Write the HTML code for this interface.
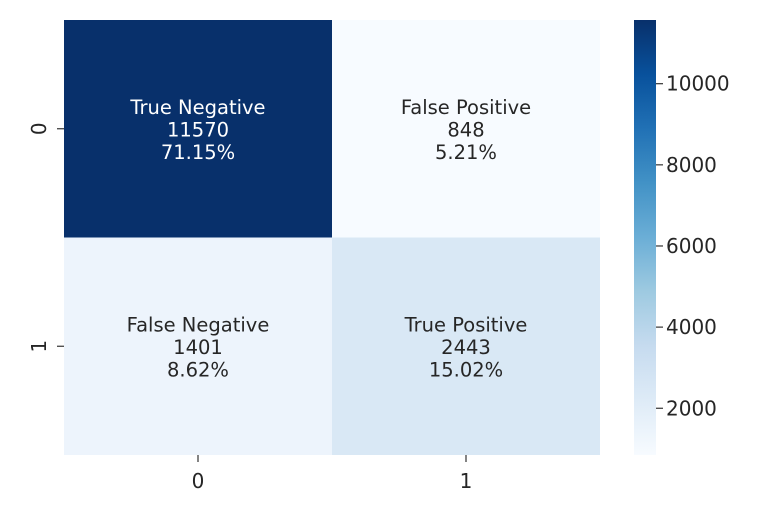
<!DOCTYPE html>
<html><head><meta charset="utf-8"><style>
body{margin:0;background:#fff;width:764px;height:516px;overflow:hidden}
svg{font-family:"DejaVu Sans","Liberation Sans",sans-serif}
</style></head><body>
<svg id="chart" width="764" height="516" xmlns="http://www.w3.org/2000/svg">
<defs>
<linearGradient id="blues" x1="0" y1="1" x2="0" y2="0">
<stop offset="0" stop-color="#f7fbff"/><stop offset="0.125" stop-color="#deebf7"/><stop offset="0.25" stop-color="#c6dbef"/><stop offset="0.375" stop-color="#9ecae1"/><stop offset="0.5" stop-color="#6baed6"/><stop offset="0.625" stop-color="#4292c6"/><stop offset="0.75" stop-color="#2171b5"/><stop offset="0.875" stop-color="#08519c"/><stop offset="1" stop-color="#08306b"/>
</linearGradient>
</defs>
<g id="cells"></g>
<g id="axes"></g>
<rect x="634" y="20" width="22" height="435" fill="url(#blues)"/>
<g id="cbar"></g>
</svg>
<script>
const rowLabels=["0","1"];
const colLabels=["0","1"];
const names=["True Negative","False Positive","False Negative","True Positive"];
const counts=[11570,848,1401,2443];
const percents=["71.15%","5.21%","8.62%","15.02%"];
const cbarTicks=[2000,4000,6000,8000,10000];

const stops=["#f7fbff","#deebf7","#c6dbef","#9ecae1","#6baed6","#4292c6","#2171b5","#08519c","#08306b"];
const vmin=Math.min(...counts), vmax=Math.max(...counts);
const X0=64,X1=600,Y0=20,Y1=455;
const cw=(X1-X0)/colLabels.length, ch=(Y1-Y0)/rowLabels.length;
function hex(c){return [1,3,5].map(i=>parseInt(c.substr(i,2),16));}
function color(v){let t=(v-vmin)/(vmax-vmin)*(stops.length-1);let i=Math.min(Math.floor(t),stops.length-2);let f=t-i;
 let a=hex(stops[i]),b=hex(stops[i+1]);return "rgb("+a.map((x,k)=>Math.round(x+(b[k]-x)*f)).join(",")+")";}
function cy(v){return Y1-(v-vmin)/(vmax-vmin)*(Y1-Y0);}
const NS="http://www.w3.org/2000/svg";
function mk(t,attrs,parent,txt){const e=document.createElementNS(NS,t);for(const k in attrs)e.setAttribute(k,attrs[k]);if(txt!==undefined)e.textContent=txt;document.getElementById(parent).appendChild(e);return e;}
counts.forEach((v,i)=>{
 const r=Math.floor(i/2),c=i%2;const x=X0+c*cw,y=Y0+r*ch;
 const rc=mk("rect",{x:x,y:y,width:cw,height:ch,fill:color(v)},"cells");
 
 
 const fill=(v-vmin)/(vmax-vmin)>0.5?"#ffffff":"#262626";
 const lines=[names[i],String(v),percents[i]];
 lines.forEach((s,k)=>{
  const t=mk("text",{x:x+cw/2,y:y+ch/2-15+k*22.5,"text-anchor":"middle","font-size":"19.5",fill:fill},"cells",s);
  
  
 });
});
rowLabels.forEach((l,i)=>{
 const y=Y0+(i+0.5)*ch;
 mk("line",{x1:57,x2:64,y1:y,y2:y,stroke:"#333","stroke-width":1.2},"axes");
 const t=mk("text",{x:0,y:0,transform:"translate(46,"+y+") rotate(-90)","text-anchor":"middle","font-size":"20",fill:"#262626"},"axes",l);
 
 
});
colLabels.forEach((l,i)=>{
 const x=X0+(i+0.5)*cw;
 mk("line",{x1:x,x2:x,y1:455,y2:462,stroke:"#333","stroke-width":1.2},"axes");
 const t=mk("text",{x:x,y:488,"text-anchor":"middle","font-size":"20",fill:"#262626"},"axes",l);
 
 
});
cbarTicks.forEach(v=>{
 const y=cy(v);
 mk("line",{x1:656,x2:663,y1:y,y2:y,stroke:"#333","stroke-width":1.2},"cbar");
 const t=mk("text",{x:666,y:y+7,"font-size":"20",fill:"#262626"},"cbar",String(v));
 
 
});
</script>
</body></html>
